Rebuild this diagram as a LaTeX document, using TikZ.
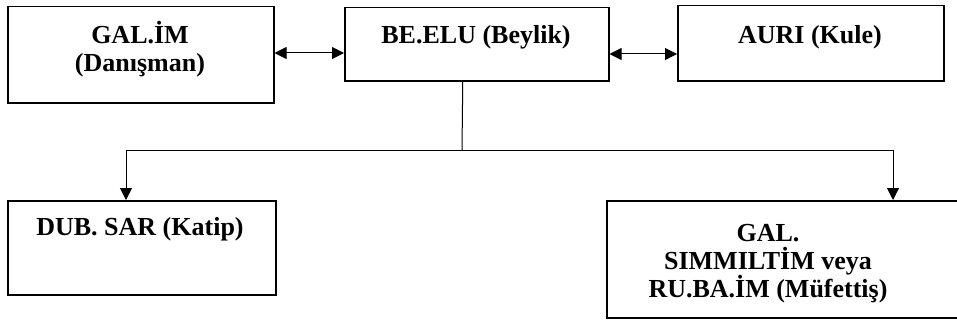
\documentclass[tikz,border=0pt]{standalone}
\usepackage{fontspec}
\setmainfont{Liberation Serif}
\usetikzlibrary{arrows.meta}
\begin{document}
\begin{tikzpicture}[x=1pt,y=-1pt,
  box/.style={draw, line width=1.5pt, inner sep=0pt, anchor=north west},
  txt/.style={font=\bfseries\fontsize{26}{28}\selectfont, align=center, inner sep=0pt},
  conn/.style={line width=1pt},
  tip/.style={-{Triangle[length=12pt,width=12pt]}},
  dtip/.style={{Triangle[length=12pt,width=12pt]}-{Triangle[length=12pt,width=12pt]}}]
\useasboundingbox (0,0) rectangle (957,321);
\node[box, minimum width=266pt, minimum height=96pt] (galim) at (7,6) {};
\node[box, minimum width=264pt, minimum height=73pt] (beelu) at (344,7) {};
\node[box, minimum width=266pt, minimum height=75pt] (auri) at (677,5) {};
\node[box, minimum width=268pt, minimum height=94pt] (dub) at (7,200) {};
\node[box, minimum width=356pt, minimum height=117pt] (gal) at (606,200) {};

\node[txt] (galimT) at (140,49) {GAL.İM\\(Danışman)};
\node[txt] (beeluT) at (476,37) {BE.ELU (Beylik)};
\node[txt] (auriT) at (810,37) {AURI (Kule)};
\node[txt] (dubT) at (140,229) {DUB. SAR (Katip)};
\node[txt] (galT) at (768,264) {GAL.\\SIMMILTİM veya\\RU.BA.İM (Müfettiş)};

\coordinate (top) at ([xshift=-14pt]beelu.south);
\coordinate (mid) at (462,150);
\coordinate (l) at (126,150);
\coordinate (r) at (893,150);

\draw[conn, dtip] (galim.east |- 0,53) -- (beelu.west |- 0,53);
\draw[conn, dtip] (beelu.east |- 0,54) -- (auri.west |- 0,54);
\draw[conn] (top) -- (mid);
\draw[conn, tip] (mid) -- (l) -- (l |- dub.north);
\draw[conn, tip] (mid) -- (r) -- (r |- gal.north);
\end{tikzpicture}
\end{document}
